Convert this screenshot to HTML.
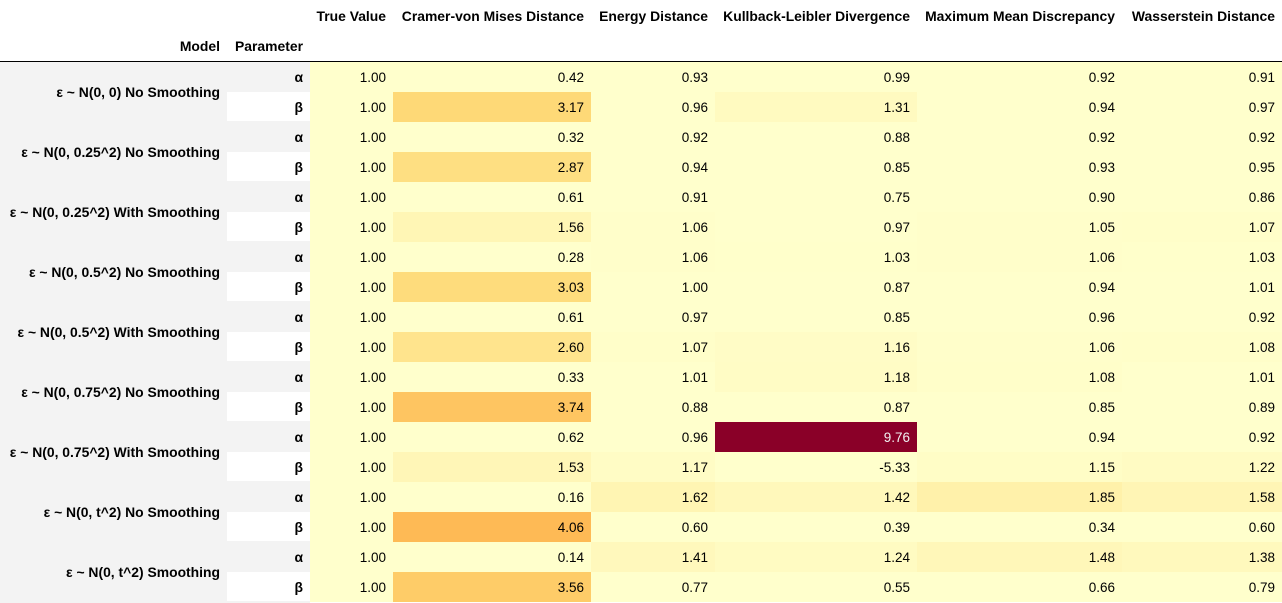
<!DOCTYPE html>
<html><head><meta charset="utf-8"><style>
body{margin:0;width:1282px;height:603px;overflow:hidden;background:#fff;font-family:"Liberation Sans",Arial,sans-serif;font-size:13px;color:#000}
#wrap{position:relative;width:1282px;height:603px}
.c{position:absolute;box-sizing:border-box;height:30px;line-height:31px;text-align:right;padding-right:7px;white-space:nowrap;font-size:13.5px}
.h{position:absolute;font-weight:bold;text-align:right;white-space:nowrap;padding-right:7px;box-sizing:border-box;font-size:13.9px}
</style></head><body>
<div id="wrap">
<div style="position:absolute;left:0;top:61px;width:1282px;height:1px;background:#000"></div>
<div style="position:absolute;left:0;top:62px;width:310px;height:541px;background:#f3f3f3"></div>
</div>
<script>
const models=["ε ~ N(0, 0) No Smoothing","ε ~ N(0, 0.25^2) No Smoothing","ε ~ N(0, 0.25^2) With Smoothing","ε ~ N(0, 0.5^2) No Smoothing","ε ~ N(0, 0.5^2) With Smoothing","ε ~ N(0, 0.75^2) No Smoothing","ε ~ N(0, 0.75^2) With Smoothing","ε ~ N(0, t^2) No Smoothing","ε ~ N(0, t^2) Smoothing"];
const params=["α","β"];
const columns=["True Value","Cramer-von Mises Distance","Energy Distance","Kullback-Leibler Divergence","Maximum Mean Discrepancy","Wasserstein Distance"];
const trueValue=[1,1,1,1,1,1,1,1,1,1,1,1,1,1,1,1,1,1];
const cvm=[0.42,3.17,0.32,2.87,0.61,1.56,0.28,3.03,0.61,2.60,0.33,3.74,0.62,1.53,0.16,4.06,0.14,3.56];
const energy=[0.93,0.96,0.92,0.94,0.91,1.06,1.06,1.00,0.97,1.07,1.01,0.88,0.96,1.17,1.62,0.60,1.41,0.77];
const kl=[0.99,1.31,0.88,0.85,0.75,0.97,1.03,0.87,0.85,1.16,1.18,0.87,9.76,-5.33,1.42,0.39,1.24,0.55];
const mmd=[0.92,0.94,0.92,0.93,0.90,1.05,1.06,0.94,0.96,1.06,1.08,0.85,0.94,1.15,1.85,0.34,1.48,0.66];
const wass=[0.91,0.97,0.92,0.95,0.86,1.07,1.03,1.01,0.92,1.08,1.01,0.89,0.92,1.22,1.58,0.60,1.38,0.79];
const series=[trueValue,cvm,energy,kl,mmd,wass];
const colX=[310,393,591,715,917,1122,1282];
const top0=62,rowH=30;
const stops=["#ffffcc","#ffeda0","#fed976","#feb24c","#fd8d3c","#fc4e2a","#e31a1c","#bd0026","#800026"];
const all=series.flat();const vmax=Math.max(...all),vmin=1;
function hex(h){return[1,3,5].map(i=>parseInt(h.substr(i,2),16))}
function color(v){let t=(v-vmin)/(vmax-vmin);t=Math.max(0,Math.min(1,t));const p=t*(stops.length-1),i=Math.min(Math.floor(p),stops.length-2),f=p-i;const a=hex(stops[i]),b=hex(stops[i+1]);const c=a.map((x,k)=>Math.round(x+(b[k]-x)*f));if(t>=0.999)return{bg:'#8a0028',dark:true};return{bg:`rgb(${c})`,dark:t>0.6}}
function rowY(i){return top0+i*rowH}
const w=document.getElementById('wrap');
function mk(cls,css,txt){const d=document.createElement('div');d.className=cls;d.style.cssText=css;d.textContent=txt;w.appendChild(d);return d}
columns.forEach((c,j)=>{const d=mk('h',`left:${colX[j]}px;width:${colX[j+1]-colX[j]}px;top:8px;`,c);

});
let d=mk('h','left:0;width:227px;top:38px;','Model');


d=mk('h','left:227px;width:83px;top:38px;','Parameter');


models.forEach((m,i)=>{const e=mk('h',`left:0;width:227px;top:${rowY(2*i)}px;height:60px;line-height:61px;`,m);

});
for(let r=0;r<18;r++){
const p=mk('h',`left:227px;width:83px;top:${rowY(r)}px;height:30px;line-height:30px;background:${r%2?'#fff':'#f3f3f3'};${r%2?'height:29px;':''}`,params[r%2]);


series.forEach((s,j)=>{const col=color(s[r]);
const c=mk('c',`left:${colX[j]}px;width:${colX[j+1]-colX[j]}px;top:${rowY(r)}px;background:${col.bg};color:${col.dark?'#f1f1f1':'#000'}`,s[r].toFixed(2));

});
}
</script>
</body></html>
